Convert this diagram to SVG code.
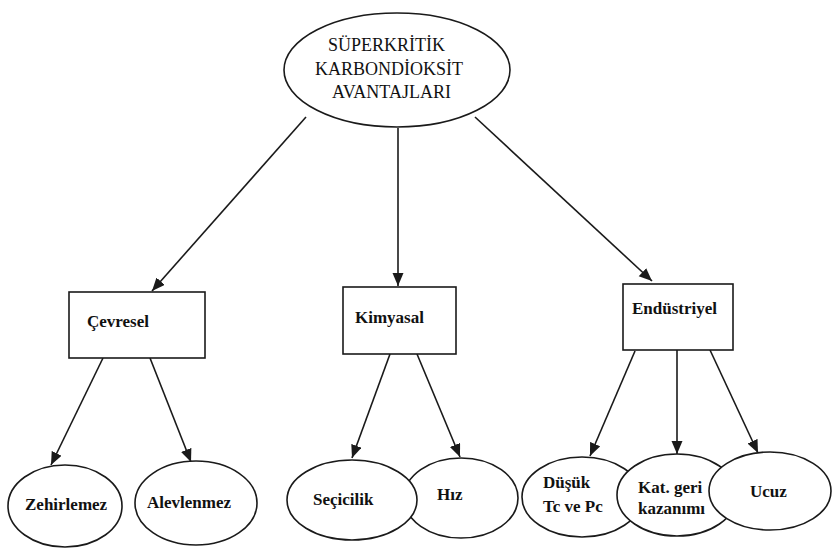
<svg xmlns="http://www.w3.org/2000/svg" width="832" height="548" viewBox="0 0 832 548">
<defs>
<style>
.shape{fill:#fff;stroke:#1a1a1a;stroke-width:1.6}
.edge{stroke:#1a1a1a;stroke-width:1.6;fill:none}
.t{font-family:'Liberation Serif','Times New Roman','DejaVu Serif',serif;fill:#111;font-size:17px;font-weight:bold}
.tt{font-family:'Liberation Serif','Times New Roman','DejaVu Serif',serif;fill:#111;font-size:18px}
</style>
<marker id="ah" markerUnits="userSpaceOnUse" markerWidth="14" markerHeight="12" refX="13" refY="5.5" orient="auto">
<path d="M0,0 L13,5.5 L0,11 Z" fill="#1a1a1a"/>
</marker>
</defs>
<rect width="832" height="548" fill="#fff"/>
<g id="connectors">
<line class="edge" x1="306" y1="117" x2="152" y2="291" marker-end="url(#ah)"/>
<line class="edge" x1="398" y1="128" x2="398" y2="286" marker-end="url(#ah)"/>
<line class="edge" x1="475" y1="117" x2="652" y2="281" marker-end="url(#ah)"/>
<line class="edge" x1="103" y1="358" x2="51" y2="465" marker-end="url(#ah)"/>
<line class="edge" x1="150" y1="358" x2="191" y2="462" marker-end="url(#ah)"/>
<line class="edge" x1="390" y1="354" x2="352" y2="458" marker-end="url(#ah)"/>
<line class="edge" x1="417" y1="354" x2="460" y2="457" marker-end="url(#ah)"/>
<line class="edge" x1="635" y1="351" x2="590" y2="456" marker-end="url(#ah)"/>
<line class="edge" x1="677" y1="350" x2="677" y2="454" marker-end="url(#ah)"/>
<line class="edge" x1="710" y1="350" x2="758" y2="453" marker-end="url(#ah)"/>
</g>
<g id="root">
<ellipse class="shape" cx="397" cy="70" rx="113" ry="57"/>
<text class="tt" x="328" y="51">SÜPERKRİTİK</text>
<text class="tt" x="315" y="75">KARBONDİOKSİT</text>
<text class="tt" x="332" y="98">AVANTAJLARI</text>
</g>
<g id="cevresel">
<rect class="shape" x="69" y="292" width="136" height="66"/>
<text class="t" x="87" y="327">Çevresel</text>
</g>
<g id="kimyasal">
<rect class="shape" x="343" y="287" width="113" height="67"/>
<text class="t" x="355" y="323">Kimyasal</text>
</g>
<g id="endustriyel">
<rect class="shape" x="623" y="284" width="110" height="66"/>
<text class="t" x="632" y="314">Endüstriyel</text>
</g>
<g id="zehirlemez">
<ellipse class="shape" cx="65" cy="506" rx="57" ry="41"/>
<text class="t" x="25" y="510">Zehirlemez</text>
</g>
<g id="alevlenmez">
<ellipse class="shape" cx="196" cy="503" rx="61" ry="42"/>
<text class="t" x="147" y="508">Alevlenmez</text>
</g>
<g id="hiz">
<ellipse class="shape" cx="461" cy="498" rx="57" ry="40"/>
<text class="t" x="437" y="500">Hız</text>
</g>
<g id="secicilik">
<ellipse class="shape" cx="352" cy="500" rx="65" ry="40"/>
<text class="t" x="313" y="505">Seçicilik</text>
</g>
<g id="dusuk">
<ellipse class="shape" cx="582" cy="497" rx="60" ry="40"/>
<text class="t" x="543" y="488">Düşük</text>
<text class="t" x="543" y="512">Tc ve Pc</text>
</g>
<g id="katgeri">
<ellipse class="shape" cx="677" cy="495" rx="60" ry="41"/>
<text class="t" x="638" y="493">Kat. geri</text>
<text class="t" x="638" y="514">kazanımı</text>
</g>
<g id="ucuz">
<ellipse class="shape" cx="770" cy="491" rx="61" ry="39"/>
<text class="t" x="750" y="497">Ucuz</text>
</g>
</svg>
